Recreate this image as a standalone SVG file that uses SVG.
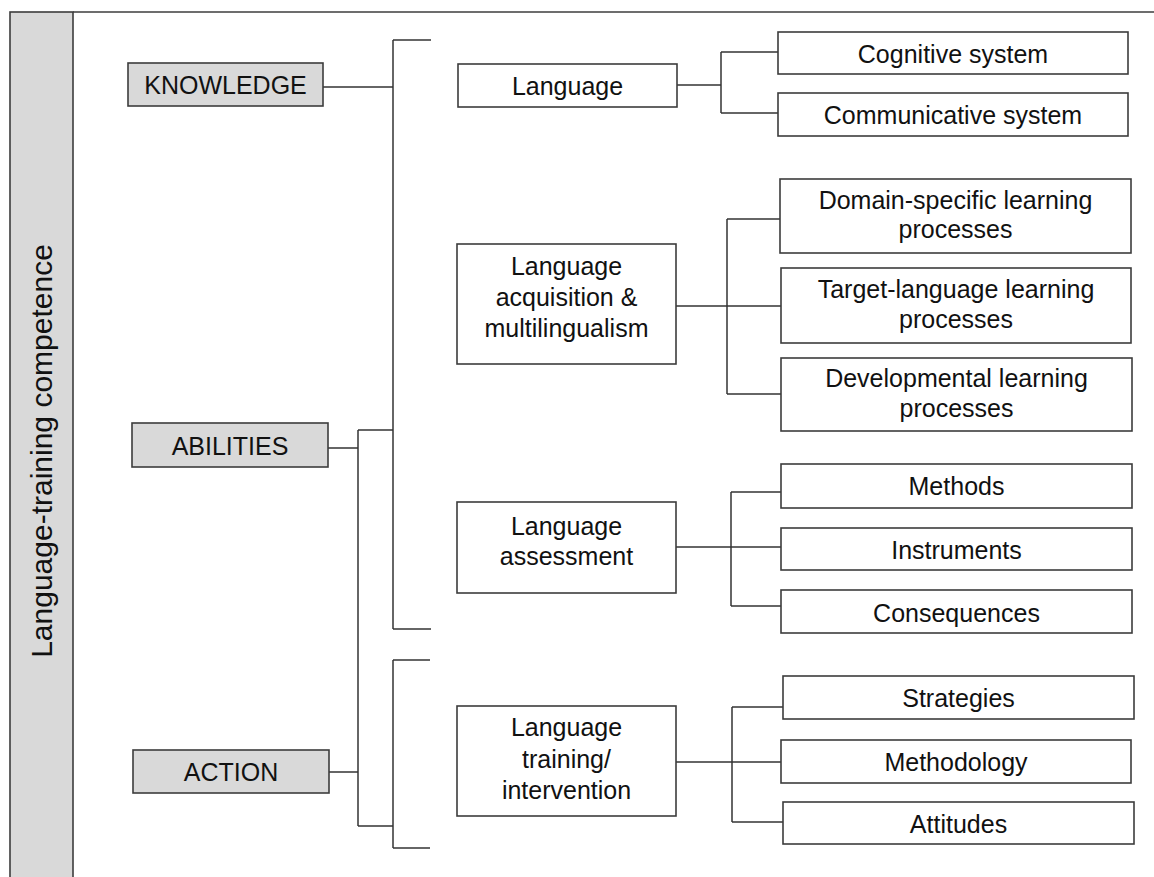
<svg xmlns="http://www.w3.org/2000/svg" width="1154" height="877" viewBox="0 0 1154 877">
<style>
.t{font-family:"Liberation Sans",Arial,sans-serif;font-size:25px;fill:#111;text-anchor:middle}
.v{font-family:"Liberation Sans",Arial,sans-serif;font-size:30px;fill:#111;text-anchor:middle}
.g{fill:#d9d9d9;stroke:#3c3c3c;stroke-width:1.6}
.w{fill:#fff;stroke:#3c3c3c;stroke-width:1.6}
.c line{stroke:#333;stroke-width:1.5}
</style>
<rect x="0" y="0" width="1154" height="877" fill="#fff"/>
<g id="frame">
<rect class="g" x="10" y="12" width="63" height="880"/>
<line x1="73" y1="12" x2="1154" y2="12" stroke="#3c3c3c" stroke-width="1.6"/>
<text class="v" transform="translate(52,451) rotate(-90)">Language-training competence</text>
</g>
<g class="c" id="connectors">
<line x1="323" y1="87" x2="393" y2="87"/>
<line x1="393" y1="40" x2="393" y2="629"/>
<line x1="393" y1="40" x2="431" y2="40"/>
<line x1="393" y1="629" x2="431" y2="629"/>
<line x1="328" y1="448" x2="358" y2="448"/>
<line x1="358" y1="430" x2="358" y2="826"/>
<line x1="358" y1="430" x2="393" y2="430"/>
<line x1="358" y1="826" x2="393" y2="826"/>
<line x1="329" y1="772" x2="358" y2="772"/>
<line x1="393" y1="660" x2="393" y2="848"/>
<line x1="393" y1="660" x2="430" y2="660"/>
<line x1="393" y1="848" x2="430" y2="848"/>
<line x1="677" y1="85" x2="721" y2="85"/>
<line x1="721" y1="52" x2="721" y2="113"/>
<line x1="721" y1="52" x2="778" y2="52"/>
<line x1="721" y1="113" x2="778" y2="113"/>
<line x1="676" y1="306" x2="781" y2="306"/>
<line x1="727" y1="219" x2="727" y2="394"/>
<line x1="727" y1="219" x2="780" y2="219"/>
<line x1="727" y1="394" x2="781" y2="394"/>
<line x1="676" y1="547" x2="781" y2="547"/>
<line x1="731" y1="492" x2="731" y2="606"/>
<line x1="731" y1="492" x2="781" y2="492"/>
<line x1="731" y1="606" x2="781" y2="606"/>
<line x1="676" y1="762" x2="781" y2="762"/>
<line x1="732" y1="707" x2="732" y2="822"/>
<line x1="732" y1="707" x2="783" y2="707"/>
<line x1="732" y1="822" x2="783" y2="822"/>
</g>
<g id="knowledge"><rect class="g" x="128" y="63" width="195" height="43"/><text class="t" x="225.5" y="94">KNOWLEDGE</text></g>
<g id="abilities"><rect class="g" x="132" y="423" width="196" height="44"/><text class="t" x="230" y="455">ABILITIES</text></g>
<g id="action"><rect class="g" x="133" y="750" width="196" height="43"/><text class="t" x="231" y="781">ACTION</text></g>
<g id="language"><rect class="w" x="458" y="64" width="219" height="43"/><text class="t" x="567.5" y="95">Language</text></g>
<g id="acquisition"><rect class="w" x="457" y="244" width="219" height="120"/><text class="t" x="566.5" y="275">Language</text><text class="t" x="566.5" y="306">acquisition &amp;</text><text class="t" x="566.5" y="337">multilingualism</text></g>
<g id="assessment"><rect class="w" x="457" y="502" width="219" height="91"/><text class="t" x="566.5" y="535">Language</text><text class="t" x="566.5" y="565">assessment</text></g>
<g id="training"><rect class="w" x="457" y="706" width="219" height="110"/><text class="t" x="566.5" y="736">Language</text><text class="t" x="566.5" y="767.5">training/</text><text class="t" x="566.5" y="799">intervention</text></g>
<g id="cognitive"><rect class="w" x="778" y="32" width="350" height="42"/><text class="t" x="953" y="63">Cognitive system</text></g>
<g id="communicative"><rect class="w" x="778" y="93" width="350" height="43"/><text class="t" x="953" y="124">Communicative system</text></g>
<g id="domain"><rect class="w" x="780" y="179" width="351" height="74"/><text class="t" x="955.5" y="209">Domain-specific learning</text><text class="t" x="955.5" y="238">processes</text></g>
<g id="target"><rect class="w" x="781" y="268" width="350" height="75"/><text class="t" x="956" y="298">Target-language learning</text><text class="t" x="956" y="328">processes</text></g>
<g id="developmental"><rect class="w" x="781" y="358" width="351" height="73"/><text class="t" x="956.5" y="387">Developmental learning</text><text class="t" x="956.5" y="417">processes</text></g>
<g id="methods"><rect class="w" x="781" y="464" width="351" height="44"/><text class="t" x="956.5" y="495">Methods</text></g>
<g id="instruments"><rect class="w" x="781" y="528" width="351" height="42"/><text class="t" x="956.5" y="559">Instruments</text></g>
<g id="consequences"><rect class="w" x="781" y="590" width="351" height="43"/><text class="t" x="956.5" y="622">Consequences</text></g>
<g id="strategies"><rect class="w" x="783" y="676" width="351" height="43"/><text class="t" x="958.5" y="707">Strategies</text></g>
<g id="methodology"><rect class="w" x="781" y="740" width="350" height="43"/><text class="t" x="956" y="771">Methodology</text></g>
<g id="attitudes"><rect class="w" x="783" y="802" width="351" height="42"/><text class="t" x="958.5" y="833">Attitudes</text></g>
</svg>
